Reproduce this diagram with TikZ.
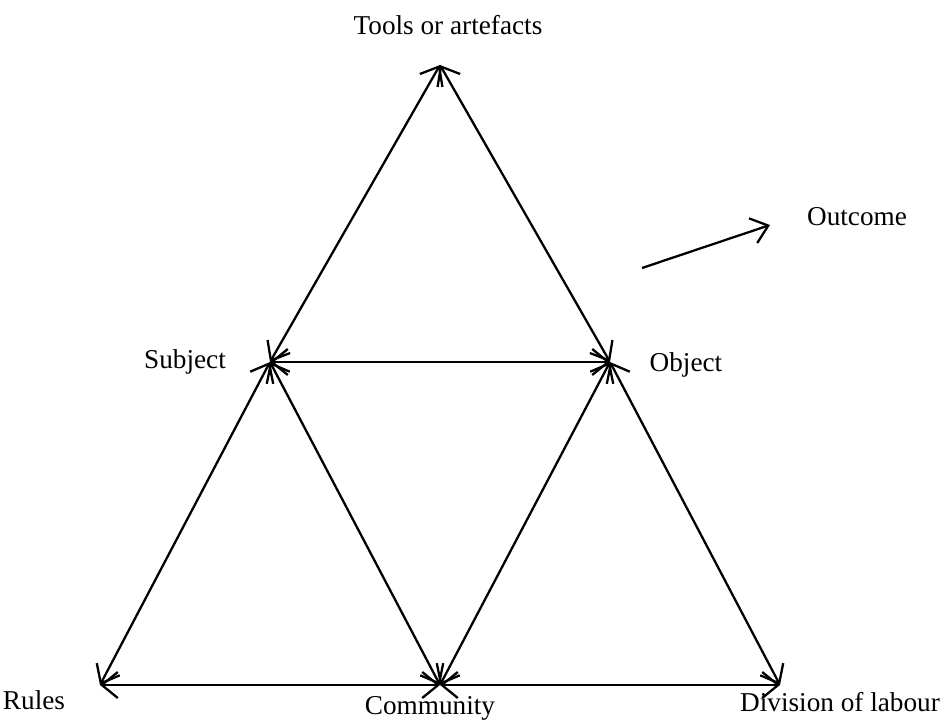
\documentclass[tikz,border=0pt]{standalone}
\usepackage{fontspec}
\setmainfont{Liberation Serif}
\usetikzlibrary{arrows.meta}
\tikzset{
  barb/.tip={Straight Barb[length=3.2mm,width=5.2mm,line width=1.3pt]},
  link/.style={barb-barb, line width=1.3pt},
  lbl/.style={font=\fontsize{15.5}{19}\selectfont, inner sep=0pt}
}

\begin{document}
\begin{tikzpicture}[x=0.02cm,y=-0.02cm]
  \useasboundingbox (0,0) rectangle (950,724);
  % Corners of the triangle
  \coordinate (tools) at (440,65);
  \coordinate (subj) at (270,362);
  \coordinate (obj) at (610,362);
  \coordinate (rules) at (100,685);
  \coordinate (comm) at (440,685);
  \coordinate (div) at (780,685);

  % Labels
  \node[lbl] (ltools) at (448,25) {Tools or artefacts};
  \node[lbl] (lsubj) at (185,362) {Subject};
  \node[lbl] (lobj) at (686,365) {Object};
  \node[lbl] (lrules) at (34,700) {Rules};
  \node[lbl] (lcomm) at (430,708) {Community};
  \node[lbl] (ldiv) at (840,702) {Division of labour};
  \node[lbl] (lout) at (857,217) {Outcome};

  % Double-headed links
  \foreach \a/\b in {tools/subj, tools/obj, subj/obj, subj/rules, subj/comm,
                     obj/comm, obj/div, comm/rules, comm/div} {
    \draw[link] (\a) -- (\b);
  }

  % Outcome arrow
  \coordinate (ostart) at (642,268);
  \coordinate (oend) at (770,225);
  \draw[-barb, line width=1.3pt] (ostart) -- (oend);
\end{tikzpicture}
\end{document}
